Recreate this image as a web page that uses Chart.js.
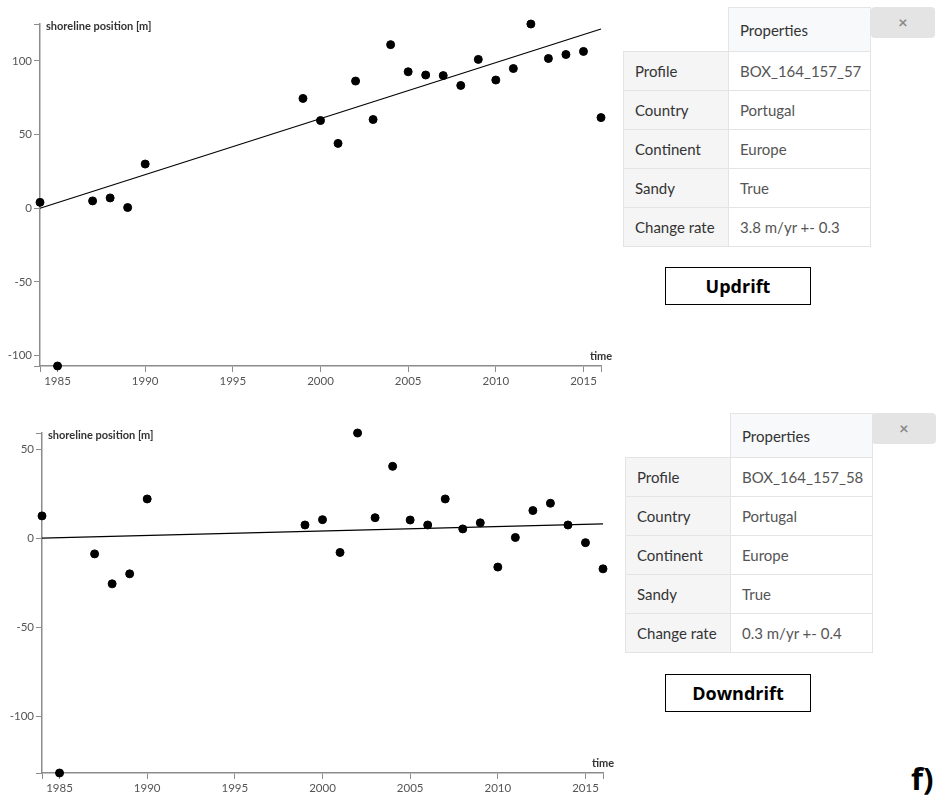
<!DOCTYPE html>
<html>
<head>
<meta charset="utf-8">
<script src="https://cdn.jsdelivr.net/npm/chart.js@4.4.1/dist/chart.umd.min.js"></script>
<style>
body { margin: 0; background: #fff; font-family: Lato, sans-serif; }
#page { position: relative; width: 936px; height: 800px; overflow: hidden; }
canvas { position: absolute; left: 0; }
table.props { position: absolute; border-collapse: collapse; table-layout: fixed; width: 247px; font-size: 15px; }
table.props th, table.props td { border: 1px solid #e4e4e4; padding: 0 0 0 11px; text-align: left; font-weight: normal; white-space: nowrap; }
table.props th { height: 43px; background: #f7f9fa; color: #333; }
table.props th.blank { border: none; background: none; }
table.props td { height: 38px; color: #555; }
table.props td.k { background: #f5f5f5; color: #333; }
.close { position: absolute; width: 64px; height: 31px; background: #e4e4e4; border-radius: 4px; color: #888; font-size: 16px; font-weight: bold; text-align: center; line-height: 29px; }
.tag { position: absolute; width: 144px; height: 36px; border: 1.5px solid #000; text-align: center; line-height: 36px; font-family: "Open Sans", sans-serif; font-weight: bold; font-size: 18px; color: #000; }
.letter { position: absolute; left: 911px; top: 757px; font-family: "Open Sans", sans-serif; font-weight: bold; font-size: 31px; color: #000; }
</style>
</head>
<body>
<div id="page">
  <canvas id="chartTop" width="620" height="390" style="top:0"></canvas>
  <canvas id="chartBottom" width="620" height="400" style="top:400px"></canvas>

  <table class="props" style="left:623px;top:7px">
    <colgroup><col style="width:105px"><col style="width:142px"></colgroup>
    <tr><th class="blank"></th><th>Properties</th></tr>
    <tr><td class="k">Profile</td><td>BOX_164_157_57</td></tr>
    <tr><td class="k">Country</td><td>Portugal</td></tr>
    <tr><td class="k">Continent</td><td>Europe</td></tr>
    <tr><td class="k">Sandy</td><td>True</td></tr>
    <tr><td class="k">Change rate</td><td>3.8 m/yr +- 0.3</td></tr>
  </table>
  <div class="close" style="left:871px;top:7px">&#215;</div>
  <div class="tag" style="left:665px;top:267px">Updrift</div>

  <table class="props" style="left:625px;top:413px">
    <colgroup><col style="width:105px"><col style="width:142px"></colgroup>
    <tr><th class="blank"></th><th>Properties</th></tr>
    <tr><td class="k">Profile</td><td>BOX_164_157_58</td></tr>
    <tr><td class="k">Country</td><td>Portugal</td></tr>
    <tr><td class="k">Continent</td><td>Europe</td></tr>
    <tr><td class="k">Sandy</td><td>True</td></tr>
    <tr><td class="k">Change rate</td><td>0.3 m/yr +- 0.4</td></tr>
  </table>
  <div class="close" style="left:872px;top:413px">&#215;</div>
  <div class="tag" style="left:665px;top:674px">Downdrift</div>

  <div class="letter">f)</div>
</div>
<script>
// survey years (same for both profiles)
const years = [1984, 1985, 1987, 1988, 1989, 1990, 1999, 2000, 2001, 2002, 2003, 2004,
  2005, 2006, 2007, 2008, 2009, 2010, 2011, 2012, 2013, 2014, 2015, 2016];
// shoreline position [m], BOX_164_157_57 (updrift)
const updrift = [4, -107, 5, 7, 0.5, 30, 74.5, 59.5, 44, 86.3, 60.2, 111,
  92.6, 90.4, 90, 83.3, 101, 87, 94.8, 125, 101.6, 104.3, 106.4, 61.5];
// shoreline position [m], BOX_164_157_58 (downdrift)
const downdrift = [12.5, -131.7, -8.8, -25.6, -20, 22, 7.4, 10.4, -8, 59, 11.5, 40.3,
  10.2, 7.4, 22, 5.2, 8.6, -16.2, 0.4, 15.5, 19.6, 7.4, -2.5, -17.2];
// trend line end points
const trendYears = [1984, 2016];
const updriftTrend = [0, 121.6];
const downdriftTrend = [0, 8];
// tick labels
const xTicks = [1985, 1990, 1995, 2000, 2005, 2010, 2015];
const yTicksTop = [-100, -50, 0, 50, 100];
const yTicksBottom = [-100, -50, 0, 50];

const axisColor = '#8c8c8c';

const axisText = {
    id: 'axisText',
    afterDraw(chart) {
        const ctx = chart.ctx;
        const a = chart.chartArea;
        ctx.save();
        ctx.font = 'bold 11px Lato';
        ctx.fillStyle = '#333';
        ctx.textBaseline = 'middle';
        ctx.textAlign = 'left';
        ctx.fillText('shoreline position [m]', a.left + 6, a.top + 2);
        ctx.textAlign = 'center';
        ctx.fillText('time', a.right, a.bottom - 10);
        ctx.restore();
    }
};

function makeScale(ticks, extra) {
    return Object.assign({
        type: 'linear',
        grid: { drawOnChartArea: false, drawTicks: true, tickLength: 6, color: axisColor, lineWidth: 1 },
        border: { display: true, color: axisColor, width: 1.5 },
        ticks: {
            color: '#555',
            font: { family: 'Lato', size: 11.5 },
            padding: 2,
            autoSkip: false,
            maxRotation: 0,
            minRotation: 0,
            callback: v => ticks.includes(v) ? String(v) : ''
        },
        // d3-style: outer ticks at both ends of the domain
        afterBuildTicks: scale => {
            scale.ticks = [scale.min, ...ticks, scale.max].map(v => ({ value: v }));
        }
    }, extra);
}

function drawProfile(id, values, trend, yTicks, size) {
    const points = years.map((y, i) => ({ x: y, y: values[i] }));
    const line = trendYears.map((y, i) => ({ x: y, y: trend[i] }));
    new Chart(document.getElementById(id), {
        type: 'scatter',
        data: {
            datasets: [
                {
                    data: line,
                    showLine: true,
                    borderColor: '#000',
                    borderWidth: 1.2,
                    pointRadius: 0,
                    clip: false
                },
                {
                    data: points,
                    backgroundColor: '#000',
                    borderColor: '#000',
                    pointRadius: 4,
                    clip: false
                }
            ]
        },
        options: {
            responsive: false,
            animation: false,
            devicePixelRatio: 1,
            layout: { autoPadding: false, padding: { top: size.top, right: size.right, left: 0, bottom: 0 } },
            plugins: { legend: { display: false }, tooltip: { enabled: false } },
            scales: {
                x: makeScale(xTicks, {
                    min: trendYears[0],
                    max: trendYears[1],
                    afterFit: s => { s.height = size.xHeight; }
                }),
                y: makeScale(yTicks, {
                    min: Math.min(...values),
                    max: Math.max(...values),
                    afterFit: s => { s.width = size.yWidth; }
                })
            }
        },
        plugins: [axisText]
    });
}

drawProfile('chartTop', updrift, updriftTrend, yTicksTop,
    { top: 24, right: 19, xHeight: 24, yWidth: 40 });
drawProfile('chartBottom', downdrift, downdriftTrend, yTicksBottom,
    { top: 33, right: 17, xHeight: 27, yWidth: 42 });
</script>
</body>
</html>
